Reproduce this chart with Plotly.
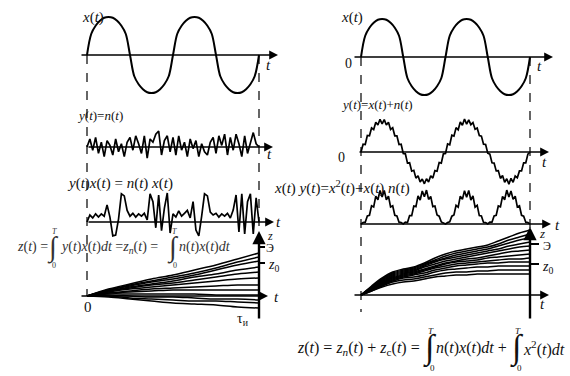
import numpy as np
import plotly.graph_objects as go

W, H = 570, 376

# ---------------- data ----------------
# x(t): sine-like carrier with flattened tops, 2 periods over [0, T]
X_SIGNAL = [0, .56, .77, .90, .98, 1, .98, .90, .77, .56, 0, -.56, -.77, -.90, -.98, -1, -.98, -.90, -.77, -.56,
            0, .56, .77, .90, .98, 1, .98, .90, .77, .56, 0, -.56, -.77, -.90, -.98, -1, -.98, -.90, -.77, -.56, 0]

# left: y(t) = n(t)
NOISE_LEFT = [0, .5, -.2, .6, -.4, .3, -.6, .4, .1, -.5, .5, -.3, .2, -.6, .3, .6, -.2, .7, .2, -.4,
              .7, -.7, .5, .3, .8, 1.0, -.5, .4, .7, -.3, .6, -.5, .7, -.2, .3, -.6, .5, -.1, .4, -.6,
              .2, -.3, -.5, .3, .6, -.4, .7, .1, .8, -.5, .6, -.2, .8, .2, -.6, .7, -.4, .3, .9, .2, 0]

# left: n(t) x(t)
NX_LEFT = [0, .24, .14, .28, .17, .28, .2, .59, .17, -.48, -.45, .1, .97, .9, .4, .2, .3, .17, .28, .2,
           .3, .07, .97, .7, -.2, .93, -.3, .48, 1.0, -.38, .28, .17, .38, .2, .3, .4, .14, .7, -.28, -.48,
           .2, .97, .9, .34, .24, .3, .17, .28, .2, .3, .14, .41, .93, -.34, .97, -.41, .7, .97, -.41, .83, 0]

# left: z_n(t) realisations (9 samples over [0, T])
Z_LEFT = [
    [0, 7, 12, 17, 21, 26, 31, 37, 43],
    [0, 6, 11, 15, 19, 23, 28, 34, 39],
    [0, 6, 10, 14, 17, 21, 26, 31, 35],
    [0, 5, 9, 12, 15, 19, 22, 26, 29],
    [0, 5, 8, 11, 13, 16, 19, 22, 24],
    [0, 4, 7, 9, 11, 13, 15, 17, 18],
    [0, 3, 5, 7, 8, 9, 10, 11, 11],
    [0, 3, 4, 5, 6, 6, 6, 6, 6],
    [0, 2, 2, 2, 2, 2, 1, 1, 1],
    [0, 1, 0, -1, -1, -2, -3, -3, -4],
    [0, 0, -2, -3, -4, -5, -5, -6, -7],
    [0, -1, -3, -5, -7, -8, -9, -11, -12],
]

# right: y(t) = x(t) + n(t)
Y_RIGHT = [0, .26, .25, .55, .54, .80, .75, .99, .90, 1.09, .94, 1.08, .90, .99, .75, .81, .54, .54, .25, .26,
           -.05, -.06, -.37, -.36, -.64, -.61, -.87, -.79, -1.00, -.90, -1.06, -.89, -1.00, -.79, -.87, -.62,
           -.64, -.35, -.37, -.06, -.05,
           .27, .24, .56, .53, .81, .74, 1.0, .89, 1.1, .93, 1.07, .91, .98, .76, .80, .55, .53, .26, .25,
           -.04, -.07, -.36, -.37, -.63, -.62, -.88, -.78, -1.01, -.89, -1.07, -.88, -1.01, -.80, -.86, -.63,
           -.63, -.36, -.36, -.07, 0]

# right: x(t) y(t) = x^2(t) + x(t) n(t)
XY_RIGHT = [0, .05, .06, .27, .29, .61, .57, .93, .81, 1.12, .90, 1.12, .81, .93, .57, .61, .29, .27, .06, .05,
            0, .06, .05, .28, .28, .60, .58, .94, .80, 1.10, .91, 1.13, .82, .92, .58, .60, .30, .26, .07, .04,
            0, .05, .07, .26, .30, .62, .56, .93, .82, 1.11, .89, 1.12, .80, .94, .56, .62, .28, .27, .05, .05,
            0, .06, .06, .27, .29, .60, .57, .92, .81, 1.13, .90, 1.10, .82, .93, .57, .61, .29, .26, .06, .05, 0]

# right: z(t) = z_n(t) + z_c(t) realisations (17 samples over [0, T])
Z_RIGHT = [
    [0, 9, 17, 23, 26, 28, 32, 37, 41, 44, 46, 48, 50, 54, 58, 62, 65],
    [0, 8, 16, 22, 25, 27, 31, 35, 39, 42, 44, 46, 48, 51, 55, 58, 61],
    [0, 8, 15, 21, 24, 26, 30, 34, 37, 40, 42, 44, 46, 49, 52, 55, 57],
    [0, 7, 14, 20, 23, 25, 29, 33, 36, 38, 40, 42, 44, 46, 49, 51, 53],
    [0, 7, 13, 19, 22, 24, 28, 31, 34, 36, 38, 40, 42, 44, 46, 48, 49],
    [0, 6, 12, 18, 21, 23, 26, 29, 32, 34, 36, 37, 39, 41, 43, 44, 45],
    [0, 6, 12, 17, 20, 22, 25, 28, 31, 33, 34, 35, 37, 38, 39, 40, 41],
    [0, 5, 11, 16, 19, 21, 24, 27, 29, 31, 32, 33, 34, 35, 36, 36, 37],
    [0, 5, 10, 15, 18, 20, 22, 25, 27, 29, 30, 31, 32, 32, 33, 33, 33],
    [0, 5, 10, 14, 17, 18, 20, 23, 25, 26, 27, 28, 28, 29, 29, 29, 29],
    [0, 4, 9, 13, 15, 16, 18, 20, 22, 23, 23, 24, 24, 25, 25, 25, 25],
    [0, 4, 8, 11, 13, 14, 16, 18, 19, 20, 20, 21, 21, 21, 21, 21, 21],
]

# ---------------- layout helpers ----------------
FONT = "Liberation Serif, Times New Roman, Times, serif"


def fx(px):
    return px / W


def fy(py):
    return 1 - py / H


# panel geometry in pixels: x start, x end, zero line y, px per unit, top, bottom
PANELS = [
    ("L1", 87, 259, 55, 38, 10, 100),
    ("L2", 87, 259, 147, 16, 120, 170),
    ("L3", 87, 259, 222, 29, 185, 245),
    ("L4", 87, 259, 296, 1, 225, 325),
    ("R1", 361, 530, 57, 38, 10, 100),
    ("R2", 361, 530, 152, 30, 110, 195),
    ("R3", 361, 530, 224, 30, 180, 235),
    ("R4", 361, 530, 295, 1, 220, 325),
]
PAD = 4

fig = go.Figure()
axref = {}
layout_axes = {}
for i, (name, x0, x1, zero, scale, top, bot) in enumerate(PANELS):
    n = i + 1
    span = x1 - x0
    xk = "xaxis" if n == 1 else f"xaxis{n}"
    yk = "yaxis" if n == 1 else f"yaxis{n}"
    xr = "x" if n == 1 else f"x{n}"
    yr = "y" if n == 1 else f"y{n}"
    layout_axes[xk] = dict(domain=[fx(x0 - PAD), fx(x1 + PAD)], range=[-PAD / span, 1 + PAD / span],
                           visible=False, fixedrange=True, anchor=yr)
    layout_axes[yk] = dict(domain=[fy(bot), fy(top)], range=[(zero - bot) / scale, (zero - top) / scale],
                           visible=False, fixedrange=True, anchor=xr)
    axref[name] = (xr, yr)


def add_line(panel, vals, width=1.8, shape="linear"):
    xr, yr = axref[panel]
    t = np.linspace(0, 1, len(vals))
    fig.add_trace(go.Scatter(x=t, y=vals, mode="lines", xaxis=xr, yaxis=yr,
                             line=dict(color="black", width=width, shape=shape),
                             hoverinfo="skip", showlegend=False))


add_line("L1", X_SIGNAL, 2.0, "spline")
add_line("L2", NOISE_LEFT, 1.7)
add_line("L3", NX_LEFT, 1.7)
for c in Z_LEFT:
    add_line("L4", c, 1.5, "spline")
add_line("R1", X_SIGNAL, 2.0, "spline")
add_line("R2", Y_RIGHT, 1.7)
add_line("R3", XY_RIGHT, 1.7)
for c in Z_RIGHT:
    add_line("R4", c, 1.5, "spline")

shapes = []
annotations = []


def dashed(x, y0, y1):
    shapes.append(dict(type="line", xref="paper", yref="paper", x0=fx(x), x1=fx(x), y0=fy(y0), y1=fy(y1),
                       line=dict(color="black", width=1.2, dash="dash")))


def seg(x0, y0, x1, y1, w=2):
    shapes.append(dict(type="line", xref="paper", yref="paper", x0=fx(x0), x1=fx(x1), y0=fy(y0), y1=fy(y1),
                       line=dict(color="black", width=w)))


def arrow(x0, y0, x1, y1, w=1.6):
    annotations.append(dict(x=fx(x1), y=fy(y1), xref="paper", yref="paper", ax=x0 - x1, ay=y0 - y1,
                            axref="pixel", ayref="pixel", text="", showarrow=True, arrowhead=2,
                            arrowsize=1.1, arrowwidth=w, arrowcolor="black"))


def txt(s, x, y, size=13, anchor="center", color="#111"):
    annotations.append(dict(x=fx(x), y=fy(y), xref="paper", yref="paper", text=s, showarrow=False,
                            xanchor=anchor, yanchor="middle",
                            font=dict(family=FONT, size=size, color=color)))


# dashed guide lines
dashed(87, 55, 296)
dashed(259, 55, 232)
dashed(361, 57, 312)
dashed(530, 57, 228)

# axes with arrows
arrow(80, 55, 278, 55)
arrow(87, 147, 273, 147)
arrow(87, 222, 274, 222)
arrow(80, 296, 268, 296)
arrow(259, 320, 259, 231, 2.4)
arrow(353, 57, 553, 57)
arrow(358, 152, 549, 152)
arrow(359, 224, 551, 224)
arrow(353, 295, 549, 295)
arrow(530, 320, 530, 227, 2.4)

# ticks on z axes
seg(259, 247, 265, 247)
seg(259, 263, 265, 263)
seg(530, 244, 539, 244)
seg(530, 264, 539, 264)

I = lambda s: f"<i>{s}</i>"
xt = f"{I('x')}({I('t')})"
yt = f"{I('y')}({I('t')})"
nt = f"{I('n')}({I('t')})"

# left labels
txt(xt, 93, 18, 15)
txt(I("t"), 268, 65, 15)
txt(f"{yt}={nt}", 100, 115, 13)
txt(I("t"), 269, 154, 15)
txt(f"{yt}{xt} = {nt} {xt}", 120, 183, 15)
txt(I("t"), 278, 222, 15)
txt(I("z"), 270, 236, 12)
txt("Э", 270, 248, 12)
txt(f"{I('z')}<sub>0</sub>", 273, 265, 14)
txt(I("t"), 276, 297, 15)
txt("0", 88, 307, 15)
txt("τ<sub>и</sub>", 243, 319, 14)

# right labels
txt(xt, 352, 17, 15)
txt("0", 348, 63, 14)
txt(I("t"), 539, 66, 15)
txt(f"{yt}={xt}+{nt}", 377, 104, 13)
txt("0", 341, 157, 14)
txt(I("t"), 544, 162, 15)
txt(f"{xt} {yt}={I('x')}<sup>2</sup>({I('t')})+{xt} {nt}", 342, 187, 15)
txt(I("t"), 557, 225, 15)
txt(I("z"), 542, 233, 13)
txt("Э", 547, 246, 12)
txt(f"{I('z')}<sub>0</sub>", 547, 267, 14)
txt(I("t"), 542, 304, 15)

# left formula
fc = "#333"
txt(f"{I('z')}({I('t')}) = ", 15, 247, 14, "left", fc)
txt("∫", 53, 247, 28, "center", fc)
txt(I("T"), 54, 231, 8, "center", fc)
txt("0", 54, 265, 8, "center", fc)
txt(f"{yt}{xt}{I('dt')} ={I('z')}<sub>{I('n')}</sub>({I('t')}) = ", 58, 247, 14, "left", fc)
txt("∫", 173, 247, 28, "center", fc)
txt(I("T"), 174, 231, 8, "center", fc)
txt("0", 175, 265, 8, "center", fc)
txt(f"{nt}{xt}{I('dt')}", 177, 247, 14, "left", fc)

# right formula
txt(f"{I('z')}({I('t')}) = {I('z')}<sub>{I('n')}</sub>({I('t')}) + {I('z')}<sub>с</sub>({I('t')}) = ",
    295, 348, 16, "left", "#111")
txt("∫", 430, 348, 34, "center", "#111")
txt(I("T"), 431, 331, 9, "center", "#111")
txt("0", 432, 368, 9, "center", "#111")
txt(f"{nt}{xt}{I('dt')} + ", 434, 348, 16, "left", "#111")
txt("∫", 517, 348, 34, "center", "#111")
txt(I("T"), 518, 331, 9, "center", "#111")
txt("0", 519, 368, 9, "center", "#111")
txt(f"{I('x')}<sup>2</sup>({I('t')}){I('dt')}", 521, 348, 16, "left", "#111")

fig.update_layout(
    width=W, height=H, margin=dict(l=0, r=0, t=0, b=0),
    paper_bgcolor="white", plot_bgcolor="rgba(0,0,0,0)",
    showlegend=False, hovermode=False,
    shapes=shapes, annotations=annotations,
    font=dict(family=FONT, color="#111"),
    **layout_axes,
)

fig.write_html("out.html", config={"displayModeBar": False, "staticPlot": True},
               post_script="document.body.style.margin='0px';document.body.style.overflow='hidden';")
